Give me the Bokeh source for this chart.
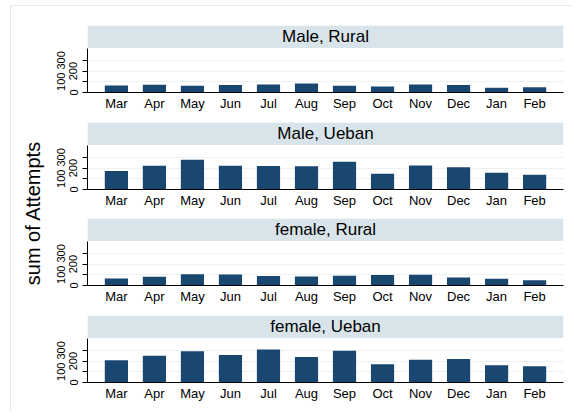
import math
from bokeh.plotting import figure
from bokeh.models import (FactorRange, Range1d, FixedTicker, LinearAxis,
                          BoxAnnotation, Label)
from bokeh.layouts import row, column
from bokeh.embed import file_html
from bokeh.resources import INLINE

# ---------------- data ----------------
months = ["Mar", "Apr", "May", "Jun", "Jul", "Aug", "Sep", "Oct", "Nov", "Dec", "Jan", "Feb"]
titles = ["Male, Rural", "Male, Ueban", "female, Rural", "female, Ueban"]
male_rural = [66, 72, 63, 69, 75, 84, 63, 56, 75, 69, 44, 50]
male_ueban = [173, 221, 278, 221, 220, 218, 260, 148, 224, 209, 157, 139]
female_rural = [65, 81, 106, 103, 88, 85, 91, 97, 100, 75, 63, 50]
female_ueban = [207, 250, 291, 256, 309, 238, 296, 170, 213, 219, 161, 152]
y_ticks = [0, 100, 200, 300]
y_title = "sum of Attempts"

series = [male_rural, male_ueban, female_rural, female_ueban]

# ---------------- style ----------------
FONT = "Liberation Sans"
BAR = "#1a476f"
STRIP = "#d8e4ea"
GRID = "#eaf2f3"
BORDER = "#e3ecee"

YMAX = 416.0
DATA_PX = 44.5
FRAME_H = 67
YEND = YMAX * FRAME_H / DATA_PX

LAB_W = 42
PANEL_W = 519
tops = [19, 1, 0, 1]
BOTTOM = 29
TOTAL_H = sum(tops) + 4 * (FRAME_H + BOTTOM)


def panel(title, vals, top_border):
    h = top_border + FRAME_H + BOTTOM
    p = figure(width=PANEL_W, height=h,
               x_range=FactorRange(factors=months, range_padding=0.52 / len(months)),
               y_range=Range1d(0, YEND),
               output_backend="svg", toolbar_location=None, tools="",
               min_border_left=34, min_border_right=9,
               min_border_top=top_border, min_border_bottom=BOTTOM)
    p.outline_line_color = None
    p.background_fill_color = "white"
    p.border_fill_color = "white"

    p.vbar(x=months, top=vals, width=0.61, fill_color=BAR, line_color=None)

    # grid
    p.xgrid.visible = False
    p.ygrid.ticker = FixedTicker(ticks=[t for t in y_ticks if t > 0])
    p.ygrid.grid_line_color = GRID
    p.ygrid.grid_line_width = 1

    # x axis
    xa = p.xaxis[0]
    xa.axis_line_color = "black"
    xa.major_tick_line_color = None
    xa.major_tick_out = 0
    xa.major_tick_in = 0
    xa.major_label_standoff = 3
    xa.major_label_text_font = FONT
    xa.major_label_text_font_size = "13px"
    xa.major_label_text_color = "black"

    # inner y axis (ticks at all, labels at 0, 200)
    ya = p.yaxis[0]
    ya.ticker = FixedTicker(ticks=y_ticks)
    ya.major_label_overrides = {t: "" for t in y_ticks[1::2]}
    ya.bounds = (0, YMAX)
    ya.axis_line_color = "black"
    ya.major_tick_line_color = "black"
    ya.major_tick_out = 5
    ya.major_tick_in = 0
    ya.minor_tick_line_color = None
    ya.major_label_orientation = "vertical"
    ya.major_label_standoff = 5
    ya.major_label_text_font = FONT
    ya.major_label_text_font_size = "11px"
    ya.major_label_text_color = "black"

    # outer y axis (labels at 100, 300)
    yo = LinearAxis(ticker=FixedTicker(ticks=y_ticks[1::2]))
    yo.axis_line_color = None
    yo.major_tick_line_color = None
    yo.minor_tick_line_color = None
    yo.major_tick_out = 0
    yo.major_tick_in = 0
    yo.major_label_orientation = "vertical"
    yo.major_label_standoff = 1
    yo.major_label_text_font = FONT
    yo.major_label_text_font_size = "11px"
    yo.major_label_text_color = "black"
    p.add_layout(yo, "left")

    # strip with title
    p.add_layout(BoxAnnotation(bottom=YMAX, fill_color=STRIP, fill_alpha=1.0,
                               line_color=None))
    p.add_layout(Label(x=len(months) / 2, y=(YMAX + YEND) / 2, text=title,
                       text_align="center", text_baseline="middle",
                       text_font=FONT, text_font_size="17px", text_color="black"))
    return p


panels = [panel(t, v, tb) for t, v, tb in zip(titles, series, tops)]

ylab = figure(width=LAB_W, height=TOTAL_H, x_range=Range1d(0, LAB_W),
              y_range=Range1d(0, TOTAL_H), x_axis_type=None, y_axis_type=None,
              min_border=0, output_backend="svg", toolbar_location=None, tools="")
ylab.outline_line_color = None
ylab.add_layout(Label(x=21, y=TOTAL_H - 206.5, text=y_title, angle=math.pi / 2,
                      text_align="center", text_baseline="alphabetic",
                      text_font=FONT, text_font_size="20px", text_color="black"))

layout = row(ylab, column(*panels),
             styles={"border-top": "1px solid " + BORDER,
                     "border-left": "1px solid " + BORDER,
                     "margin-left": "10px", "margin-top": "5px"})

open("out.html", "w").write(file_html(layout, INLINE))
